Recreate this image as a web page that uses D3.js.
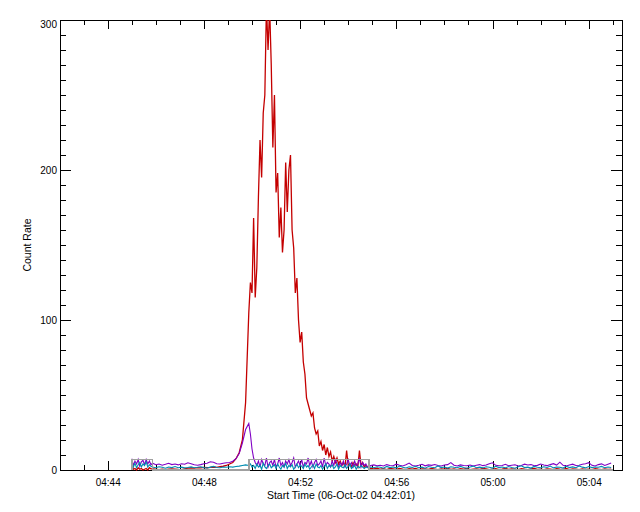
<!DOCTYPE html>
<html><head><meta charset="utf-8">
<script src="https://cdn.jsdelivr.net/npm/d3@7"></script>
<style>body{margin:0;background:#fff}svg{display:block}</style>
</head><body>
<svg id="c" width="640" height="512"></svg>
<script>
// ---- data ----
const startTime = "04:42:01";
const endTime = "05:05:23";
const segStart = ["04:45:00", "04:45:52", "04:49:52", "04:54:56"];
const segStep = [4, 8, 4, 8]; // seconds

const redA = [4,0.5,1,0,1.5,0.5,1,0,0.5,1,0,1.5,0.8];
const redB = [0.8,0.5,0.3,0.6,0.2,0.5,0.8,0.6,0.4,0.3,0.8,1.2,1.5,1.3,1.6,1.4,1.8,1.5,1.7,2,1.8,2.2,2.5,3,4,5,7.5,11.5,20,45];
const redC = [105,125,118,168,115,135,182,220,195,238,
  250,310,280,308,270,215,250,185,198,155,
  175,145,160,205,172,200,210,160,148,118,
  128,100,85,92,72,64,48,44,40,36,
  38,28,24,26,16,19,13,17,10,15,
  9,12,6,9,5,8,4,6,3,5,
  2,13,3,4,2,5,3,4,2,13,
  3,5,2,3,2];
const redD = [1,0.8,1.2,0.5,0.9,0.3,1,0.7,0.4,1.1,
  0.6,0.2,0.9,0.5,1,0.3,0.7,0.8,0.4,1,
  0.6,0.2,0.8,0.5,1.1,0.4,0.7,0.3,0.9,0.6,
  1,0.2,0.5,0.8,0.4,1,0.7,0.3,0.6,0.9,
  0.2,0.5,1,0.4,0.8,0.6,0.3,0.9,0.5,0.2,
  0.7,1,0.4,0.6,0.3,0.8,0.5,0.2,0.9,0.6,
  0.4,1,0.3,0.7,0.5,0.2,0.8,0.4,0.6,0.3,
  0.9,0.5,0.2,0.7,0.4,0.5];

const purpleA = [7.5,3,6,4,7,2.5,5.5,6.5,3.5,7,4,6,3.5];
const purpleB = [4.5,3.5,4,3.2,3.8,4.5,3.6,4,3.4,4.2,3.8,4.8,4.2,3.5,3.2,3.6,4.2,4.5,5.5,5.2,4.2,4,4.5,4.8,5,5.8,7.5,11,18,27];
const purpleC = [31,24,14,8,5,3,6,2,7,4,
  3,8,2,5,6,3,7,2,4,8,
  3,5,2,6,4,7,3,5,8,2,
  4,6,3,7,2,5,4,8,3,6,
  2,5,7,3,4,6,2,8,3,5,
  4,2,6,3,7,4,2,5,3,6,
  2,4,7,3,5,2,6,3,4,8,
  2,5,3,4,2];
const purpleD = [3,3.4,2.8,3.2,2.7,3.6,3,2.8,3.9,3.2,
  2.7,3.5,4.6,3,2.7,3.2,3.8,2.8,3.4,3.1,
  3.7,3,2.7,3.3,3.6,4.9,3.2,2.7,3.4,3,
  2.8,3.3,2.7,3.2,3.6,2.9,3.3,4.2,4.8,3.1,
  2.8,3,3.8,2.8,3.2,3.5,2.7,3,3.9,3.3,
  3.6,2.8,3.1,4,3.3,2.9,3.6,4.2,3.3,5.2,
  3.1,2.7,3.3,3.9,3,3.2,3.8,4.2,4.9,3.1,
  2.7,3.6,4.1,3,3.9,4.6];

const tealA = [5,2,4.5,1.5,3.5,5,2,4,3,5.5,2,3.5,2.5];
const tealB = [2,1.5,2.2,1.8,1.2,2,1.6,2.3,1.5,1.9,1.4,1.7,2.1,1.5,1.8,2.2,1.6,1.3,1.9,2.4,1.7,1.5,2,1.8,2.2,1.9,2.3,2.6,3,3.4];
const tealC = [3,4,2,3,1,4,2,3,0.5,4.5,
  2,1,3,4,1.5,2.5,3.5,1,4,2,
  0.5,3,2,4.5,1,3,2,3.5,0.5,2,
  4,1.5,3,2.5,1,4,2,3,0.5,2,
  3.5,1,4,2,1.5,3,0.5,2.5,4,1,
  3,2,3.5,1,2,4,0.5,3,2,1.5,
  3.5,1,2.5,4,1,2,3,0.5,2.5,1.5,
  3,2,1,2,1.5];
const tealD = [2,1.5,2.2,1.8,1.2,2.4,1.6,2,1.4,2.6,
  1.8,1.3,2.1,1.7,2.5,1.5,1.9,1.2,2.3,1.8,
  1.5,2.7,1.6,2,1.3,2.2,1.8,1.5,2.4,1.7,
  1.2,2,2.6,1.5,1.9,1.4,2.2,1.8,1.3,2.5,
  1.6,2,1.4,2.3,1.7,1.2,2.1,2.8,1.6,1.9,
  1.3,2.4,1.8,1.5,2.2,1.7,2.6,1.4,2,1.8,
  1.3,2.5,1.6,2.1,1.5,2.7,1.9,1.4,2.3,1.6,
  2,1.8,2.4,1.5,2,1.7];

const stateTimes = ["04:45:00","04:45:00","04:45:52","04:45:52","04:49:52","04:49:52","04:54:52","04:54:52","05:05:00"];
const stateValues = [0,7,7,0,0,7,7,0,0];

const yTicks = [0, 100, 200, 300];
const xTickLabels = ["04:44","04:48","04:52","04:56","05:00","05:04"];
const xTitle = "Start Time (06-Oct-02 04:42:01)";
const yTitle = "Count Rate";

// ---- helpers ----
const parseT = s => { const p = s.split(":").map(Number); return new Date(Date.UTC(2002, 9, 6, p[0], p[1], p[2] || 0)); };
function buildSeries(segs) {
  const out = [];
  segs.forEach((arr, i) => {
    const t0 = +parseT(segStart[i]);
    arr.forEach((v, j) => out.push({ t: new Date(t0 + j * segStep[i] * 1000), v }));
  });
  return out;
}

const L = 60, R = 622, T = 20, B = 470;
const svg = d3.select("#c");
svg.append("rect").attr("width", 640).attr("height", 512).attr("fill", "#fff");

const x = d3.scaleUtc().domain([parseT(startTime), parseT(endTime)]).range([L, R]);
const y = d3.scaleLinear().domain([0, 300]).range([B, T]);

const majorX = xTickLabels.map(parseT);
const minorX = d3.utcMinute.range(parseT("04:43:00"), parseT("05:05:30"));
const minorY = d3.range(0, 301, 10);
const fmt = d3.utcFormat("%H:%M");
const FONT = "Liberation Sans, Arial, sans-serif";

function styleAxis(g) {
  g.selectAll("path,line").attr("stroke", "#000").attr("shape-rendering", "crispEdges");
  g.selectAll("text").attr("font-family", FONT).attr("font-size", 10).attr("fill", "#000");
  g.attr("font-family", FONT);
}

// axes
svg.append("g").attr("transform", `translate(0,${B})`)
  .call(d3.axisBottom(x).tickValues(minorX).tickSize(-5).tickSizeOuter(0).tickFormat("")).call(styleAxis);
svg.append("g").attr("transform", `translate(0,${B})`)
  .call(d3.axisBottom(x).tickValues(majorX).tickSize(-9).tickSizeOuter(0).tickPadding(9).tickFormat(fmt)).call(styleAxis);
svg.append("g").attr("transform", `translate(0,${T})`)
  .call(d3.axisTop(x).tickValues(minorX).tickSize(-5).tickSizeOuter(0).tickFormat("")).call(styleAxis);
svg.append("g").attr("transform", `translate(0,${T})`)
  .call(d3.axisTop(x).tickValues(majorX).tickSize(-9).tickSizeOuter(0).tickFormat("")).call(styleAxis);
svg.append("g").attr("transform", `translate(${L},0)`)
  .call(d3.axisLeft(y).tickValues(minorY).tickSize(-6).tickSizeOuter(0).tickFormat("")).call(styleAxis);
const yMaj = svg.append("g").attr("transform", `translate(${L},0)`)
  .call(d3.axisLeft(y).tickValues(yTicks).tickSize(-11).tickSizeOuter(0).tickPadding(3).tickFormat(d3.format("d"))).call(styleAxis);
svg.append("g").attr("transform", `translate(${R},0)`)
  .call(d3.axisRight(y).tickValues(minorY).tickSize(-6).tickSizeOuter(0).tickFormat("")).call(styleAxis);
svg.append("g").attr("transform", `translate(${R},0)`)
  .call(d3.axisRight(y).tickValues(yTicks).tickSize(-11).tickSizeOuter(0).tickFormat("")).call(styleAxis);
yMaj.selectAll(".tick text").filter(d => d === 300).attr("dy", "0.7em");

// titles
svg.append("text").attr("x", (L + R) / 2).attr("y", 499).attr("text-anchor", "middle")
  .attr("font-family", FONT).attr("font-size", 10.5).text(xTitle);
svg.append("text").attr("transform", `translate(30.5,${(T + B) / 2}) rotate(-90)`).attr("text-anchor", "middle")
  .attr("font-family", FONT).attr("font-size", 10.5).text(yTitle);

// clip
svg.append("clipPath").attr("id", "clip").append("rect")
  .attr("x", L).attr("y", T).attr("width", R - L).attr("height", B - T + 3);

const line = d3.line().x(d => x(d.t)).y(d => y(d.v));
const plot = svg.append("g").attr("clip-path", "url(#clip)");

const series = [
  { data: buildSeries([redA, redB, redC, redD]), color: "#c40000", w: 1.3 },
  { data: buildSeries([purpleA, purpleB, purpleC, purpleD]), color: "#8000c4", w: 1.1 },
  { data: buildSeries([tealA, tealB, tealC, tealD]), color: "#008cb0", w: 1.1 }
];
series.forEach(s => {
  plot.append("path").datum(s.data).attr("d", line)
    .attr("fill", "none").attr("stroke", s.color).attr("stroke-width", s.w);
});

const state = stateTimes.map((s, i) => ({ t: parseT(s), v: stateValues[i] }));
plot.append("path").datum(state).attr("d", line)
  .attr("fill", "none").attr("stroke", "#a0a0a0").attr("stroke-width", 1.6)
  .attr("shape-rendering", "crispEdges");
</script>
</body></html>
